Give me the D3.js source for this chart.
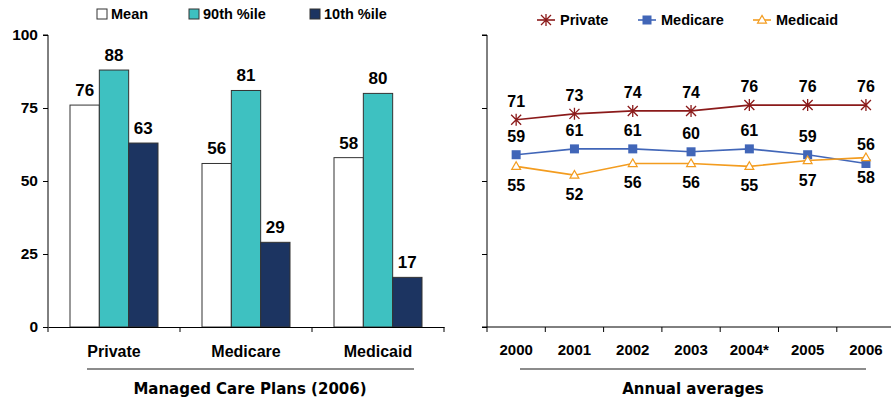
<!DOCTYPE html>
<html>
<head>
<meta charset="utf-8">
<script src="https://cdn.jsdelivr.net/npm/d3@7"></script>
<style>
  html, body { margin: 0; padding: 0; background: #fff; }
  svg text { font-family: "Liberation Sans", Arial, sans-serif; font-weight: bold; fill: #000; }
  svg text.title { font-family: "DejaVu Sans", sans-serif; }
</style>
</head>
<body>
<svg id="chart" width="891" height="402"></svg>
<script>
// ---- Managed care plans (2006): bar data ----
const planCategories = ["Private", "Medicare", "Medicaid"];
const barSeriesNames = ["Mean", "90th %ile", "10th %ile"];
const meanValues = [76, 56, 58];
const p90Values = [88, 81, 80];
const p10Values = [63, 29, 17];
const barTickValues = [0, 25, 50, 75, 100];

// ---- Annual averages: line data ----
const years = ["2000", "2001", "2002", "2003", "2004*", "2005", "2006"];
const lineSeriesNames = ["Private", "Medicare", "Medicaid"];
const privateValues = [71, 73, 74, 74, 76, 76, 76];
const medicareValues = [59, 61, 61, 60, 61, 59, 56];
const medicaidValues = [55, 52, 56, 56, 55, 57, 58];

const barColors = ["#ffffff", "#3ec1c1", "#1c3461"];
const lineColors = ["#8b1a1a", "#4166b8", "#f39c1f"];

const svg = d3.select("#chart");

// ================= Left: grouped bars =================
const left = { x0: 48, x1: 444, y0: 35, y1: 327 };
const yL = d3.scaleLinear().domain([0, 100]).range([left.y1, left.y0]);
const xL = d3.scaleBand().domain(planCategories).range([left.x0, left.x1]).paddingInner(0).paddingOuter(0);
const xSub = d3.scaleBand().domain(barSeriesNames).range([0, xL.bandwidth()]).paddingOuter(0.75).paddingInner(0);

const gL = svg.append("g");
const yAxisL = d3.axisLeft(yL).tickValues(barTickValues).tickSize(5).tickPadding(5);
gL.append("g").attr("transform", `translate(${left.x0},0)`).call(yAxisL)
  .call(g => g.selectAll("text").style("font-size", "15.5px"))
  .call(g => g.select(".domain").attr("d", `M-5,${left.y0}H0V${left.y1}`));

const barSeries = [meanValues, p90Values, p10Values];
const barData = [];
planCategories.forEach((c, i) => {
  barSeriesNames.forEach((s, j) => barData.push({ cat: c, series: s, j, value: barSeries[j][i] }));
});

gL.selectAll("rect.bar").data(barData).join("rect")
  .attr("class", "bar")
  .attr("x", d => xL(d.cat) + xSub(d.series))
  .attr("y", d => yL(d.value))
  .attr("width", xSub.bandwidth())
  .attr("height", d => yL(0) - yL(d.value))
  .attr("fill", d => barColors[d.j])
  .attr("stroke", "#333")
  .attr("stroke-width", 1);

gL.selectAll("text.barlabel").data(barData).join("text")
  .attr("class", "barlabel")
  .attr("x", d => xL(d.cat) + xSub(d.series) + xSub.bandwidth() / 2)
  .attr("y", d => yL(d.value) - 9)
  .attr("text-anchor", "middle")
  .style("font-size", "17px")
  .text(d => d.value);

const xAxisL = d3.axisBottom(xL).tickSize(0).tickPadding(19);
gL.append("g").attr("transform", `translate(0,${left.y1})`).call(xAxisL)
  .call(g => g.select(".domain").attr("stroke", "#000"))
  .call(g => g.selectAll("text").style("font-size", "16px"));
// boundary ticks between category groups
gL.selectAll("line.sep").data(d3.range(planCategories.length + 1)).join("line")
  .attr("class", "sep")
  .attr("x1", i => left.x0 + i * xL.step()).attr("x2", i => left.x0 + i * xL.step())
  .attr("y1", left.y1).attr("y2", left.y1 + 5)
  .attr("stroke", "#000");

gL.append("line").attr("x1", 87).attr("x2", 414).attr("y1", 369).attr("y2", 369).attr("stroke", "#666").attr("stroke-width", 1.5);
gL.append("text").attr("class", "title").attr("x", 250).attr("y", 394).attr("text-anchor", "middle")
  .style("font-size", "15px").text("Managed Care Plans (2006)");

// bar legend
const legL = gL.append("g");
const legLX = [97, 189, 310];
barSeriesNames.forEach((s, j) => {
  legL.append("rect").attr("x", legLX[j]).attr("y", 9).attr("width", 10).attr("height", 10)
    .attr("fill", barColors[j]).attr("stroke", "#333");
  legL.append("text").attr("x", legLX[j] + 14).attr("y", 19).style("font-size", "14.5px").text(s);
});

// ================= Right: lines =================
const right = { x0: 487, y0: 35, y1: 327 };
const bandW = 58.3;
const yR = d3.scaleLinear().domain([0, 100]).range([right.y1, right.y0]);
const xR = d3.scaleBand().domain(years).range([right.x0, right.x0 + bandW * years.length]);

const gR = svg.append("g");
const yAxisR = d3.axisLeft(yR).tickValues(barTickValues).tickSize(5).tickFormat("");
gR.append("g").attr("transform", `translate(${right.x0},0)`).call(yAxisR)
  .call(g => g.select(".domain").attr("d", `M-5,${right.y0}H0V${right.y1}`));

const xAxisR = d3.axisBottom(xR).tickSize(0).tickPadding(17);
gR.append("g").attr("transform", `translate(0,${right.y1})`).call(xAxisR)
  .call(g => g.select(".domain").attr("d", `M${right.x0 - 5},0H891`))
  .call(g => g.selectAll("text").style("font-size", "15px"));
gR.selectAll("line.sep").data(d3.range(years.length)).join("line")
  .attr("class", "sep")
  .attr("x1", i => right.x0 + i * xR.step()).attr("x2", i => right.x0 + i * xR.step())
  .attr("y1", right.y1).attr("y2", right.y1 + 5)
  .attr("stroke", "#000");

gR.append("line").attr("x1", 520).attr("x2", 866).attr("y1", 369).attr("y2", 369).attr("stroke", "#666").attr("stroke-width", 1.5);
gR.append("text").attr("class", "title").attr("x", 693).attr("y", 394).attr("text-anchor", "middle")
  .style("font-size", "15px").text("Annual averages");

const lineSeries = [privateValues, medicareValues, medicaidValues];
const cx = i => xR(years[i]) + xR.bandwidth() / 2;
const line = d3.line().x((d, i) => cx(i)).y(d => yR(d));

function drawMarker(g, k, x, y) {
  const c = lineColors[k];
  if (k === 0) {
    const r = 5;
    g.append("path")
      .attr("d", `M${x - r},${y - r}L${x + r},${y + r}M${x - r},${y + r}L${x + r},${y - r}M${x},${y - r - 1}L${x},${y + r + 1}`)
      .attr("stroke", c).attr("stroke-width", 1.3).attr("fill", "none");
  } else if (k === 1) {
    g.append("rect").attr("x", x - 4.5).attr("y", y - 4.5).attr("width", 9).attr("height", 9).attr("fill", c);
  } else {
    g.append("path").attr("d", d3.symbol(d3.symbolTriangle, 34)())
      .attr("transform", `translate(${x},${y + 0.5})`)
      .attr("fill", "#fff").attr("stroke", c).attr("stroke-width", 1.2);
  }
}

lineSeries.forEach((vals, k) => {
  gR.append("path").datum(vals).attr("d", line)
    .attr("fill", "none").attr("stroke", lineColors[k]).attr("stroke-width", 1.6);
});
lineSeries.forEach((vals, k) => {
  vals.forEach((v, i) => drawMarker(gR, k, cx(i), yR(v)));
});
// value labels: Private & Medicare above, Medicaid below
const labelOffset = [-13, -13, 25];
lineSeries.forEach((vals, k) => {
  gR.selectAll(`text.lab${k}`).data(vals).join("text")
    .attr("class", `lab${k}`)
    .attr("x", (d, i) => cx(i))
    .attr("y", d => yR(d) + labelOffset[k])
    .attr("text-anchor", "middle")
    .style("font-size", "16px")
    .text(d => d);
});

// line legend
const legRX = [537, 638, 753];
lineSeriesNames.forEach((s, k) => {
  const x = legRX[k], y = 20;
  gR.append("line").attr("x1", x).attr("x2", x + 18).attr("y1", y).attr("y2", y)
    .attr("stroke", lineColors[k]).attr("stroke-width", 1.6);
  drawMarker(gR, k, x + 9, y);
  gR.append("text").attr("x", x + 23).attr("y", y + 5).style("font-size", "14.5px").text(s);
});
</script>
</body>
</html>
